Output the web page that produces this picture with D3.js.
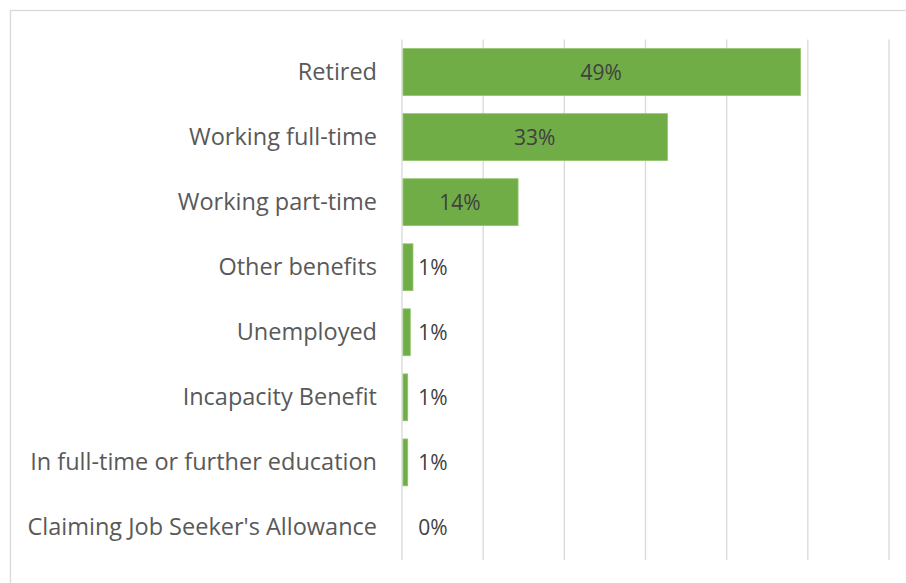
<!DOCTYPE html>
<html>
<head>
<meta charset="utf-8">
<script src="https://cdn.jsdelivr.net/npm/d3@7"></script>
<style>
  body { margin: 0; background: #fff; }
  svg { display: block; }
</style>
</head>
<body>
<div id="chart"></div>
<script>
// data
const categories = [
    "Retired",
    "Working full-time",
    "Working part-time",
    "Other benefits",
    "Unemployed",
    "Incapacity Benefit",
    "In full-time or further education",
    "Claiming Job Seeker's Allowance"
];
const values = [0.491, 0.327, 0.143, 0.0135, 0.0102, 0.007, 0.007, 0];
const valueLabels = ["49%", "33%", "14%", "1%", "1%", "1%", "1%", "0%"];
const xTicks = [0, 0.1, 0.2, 0.3, 0.4, 0.5, 0.6];

const W = 906, H = 583;
const margin = { top: 39.5, left: 402, right: 17, bottom: 23 };

const svg = d3.select("#chart").append("svg")
    .attr("width", W)
    .attr("height", H);

// chart border
svg.append("rect")
    .attr("x", 10.5).attr("y", 10.5)
    .attr("width", W + 20).attr("height", H + 20)
    .attr("fill", "none")
    .attr("stroke", "#d9d9d9")
    .attr("stroke-width", 1.3);

const x = d3.scaleLinear()
    .domain([0, 0.6])
    .range([margin.left, W - margin.right]);

const y = d3.scaleBand()
    .domain(categories)
    .range([margin.top, H - margin.bottom])
    .paddingInner(0.28)
    .paddingOuter(0.14);

// vertical gridlines
svg.append("g")
    .selectAll("line")
    .data(xTicks)
    .enter()
    .append("line")
    .attr("x1", d => x(d)).attr("x2", d => x(d))
    .attr("y1", margin.top).attr("y2", H - margin.bottom)
    .attr("stroke", "#d9d9d9")
    .attr("stroke-width", 1.3);

// category labels
const yAxis = svg.append("g")
    .attr("transform", `translate(${margin.left},0)`)
    .call(d3.axisLeft(y).tickSize(0).tickPadding(25));
yAxis.select(".domain").remove();
yAxis.selectAll("text")
    .style("font-family", "'Open Sans', sans-serif")
    .style("font-size", "23.5px")
    .attr("dy", "0.34em")
    .attr("fill", "#595959");

// bars
svg.selectAll(".bar")
    .data(categories)
    .enter()
    .append("rect")
    .attr("class", "bar")
    .attr("x", x(0) + 1)
    .attr("y", d => y(d))
    .attr("width", (d, i) => Math.max(0, x(values[i]) - x(0) - 1))
    .attr("height", y.bandwidth())
    .attr("fill", "#70ad47")
    .attr("stroke", "#8fc46b")
    .attr("stroke-width", (d, i) => values[i] > 0 ? 0.8 : 0);

// data labels
svg.selectAll(".val")
    .data(categories)
    .enter()
    .append("text")
    .attr("class", "val")
    .attr("x", (d, i) => values[i] > 0.05 ? (x(0) + x(values[i])) / 2 : x(0.02))
    .attr("y", d => y(d) + y.bandwidth() / 2)
    .attr("dy", "0.36em")
    .attr("text-anchor", (d, i) => values[i] > 0.05 ? "middle" : "start")
    .style("font-family", "'Open Sans', sans-serif")
    .style("font-size", "21px")
    .attr("fill", "#404040")
    .text((d, i) => valueLabels[i]);
</script>
</body>
</html>
